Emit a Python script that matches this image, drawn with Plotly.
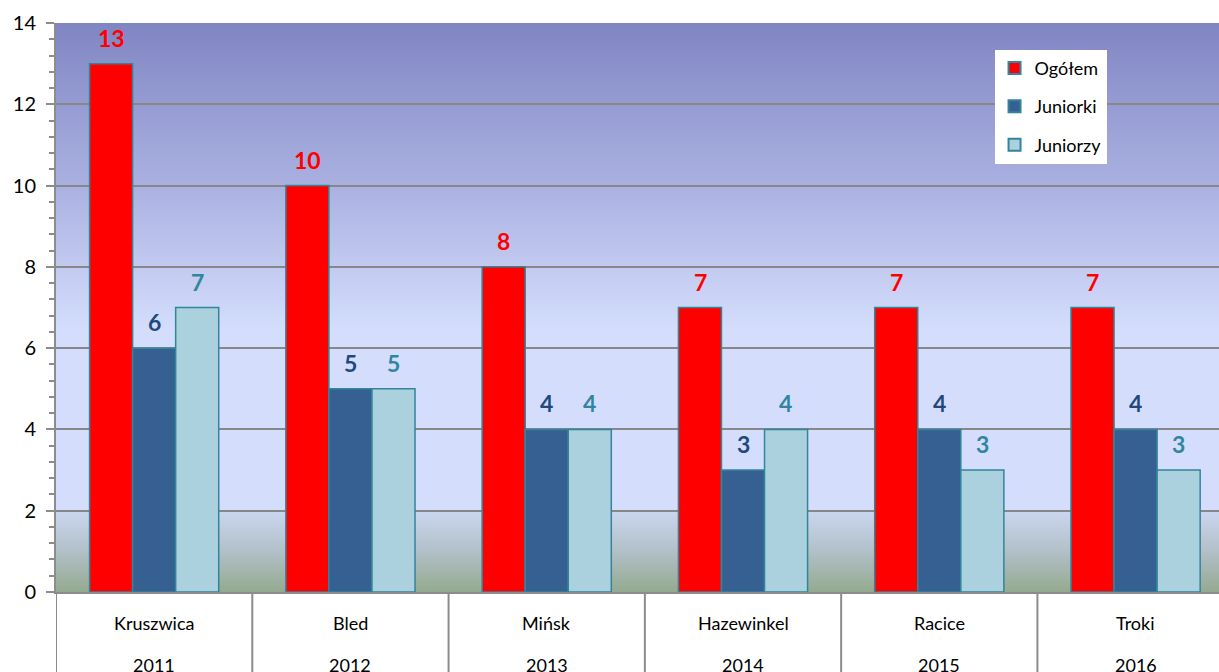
import base64
import struct
import zlib
import plotly.graph_objects as go

cities = ["Kruszwica", "Bled", "Mińsk", "Hazewinkel", "Racice", "Troki"]
years = ["2011", "2012", "2013", "2014", "2015", "2016"]
series_names = ["Ogółem", "Juniorki", "Juniorzy"]
ogolem = [13, 10, 8, 7, 7, 7]
juniorki = [6, 5, 4, 3, 4, 4]
juniorzy = [7, 5, 4, 4, 3, 3]

fills = ["#ff0000", "#376092", "#abd0de"]
label_colors = ["#ff0000", "#1f497d", "#31859c"]
outline = "#31859c"
FONT = "Lato"

series_values = [ogolem, juniorki, juniorzy]
xs = list(range(len(cities)))

fig = go.Figure()
for k, (name, vals, fc) in enumerate(zip(series_names, series_values, fills)):
    fig.add_trace(go.Bar(
        x=xs, y=vals, name=name, legendgroup="g%d" % k,
        marker=dict(color=fc, line=dict(color=outline, width=1.5)),
    ))

# background gradient (style only), rendered into a 1-px-wide PNG
grad_stops = [
    (14.0, (128, 133, 195)),
    (12.0, (150, 156, 210)),
    (10.0, (170, 177, 225)),
    (8.0, (194, 202, 240)),
    (6.4, (212, 222, 252)),
    (2.0, (212, 222, 252)),
    (1.999, (203, 214, 240)),
    (1.0, (178, 192, 200)),
    (0.0, (148, 170, 143)),
]

def col_at(v):
    for (v1, c1), (v0, c0) in zip(grad_stops[:-1], grad_stops[1:]):
        if v0 <= v <= v1:
            t = (v - v0) / (v1 - v0) if v1 != v0 else 0
            return tuple(round(a + (b - a) * t) for a, b in zip(c0, c1))
    return (212, 222, 252)

H = 1400
rows = b""
for r in range(H):
    v = 14.0 * (1 - (r + 0.5) / H)
    rows += b"\x00" + bytes(col_at(v))

def chunk(tag, data):
    c = struct.pack(">I", len(data)) + tag + data
    return c + struct.pack(">I", zlib.crc32(tag + data) & 0xffffffff)

png = b"\x89PNG\r\n\x1a\n" + chunk(b"IHDR", struct.pack(">IIBBBBB", 1, H, 8, 2, 0, 0, 0)) \
    + chunk(b"IDAT", zlib.compress(rows)) + chunk(b"IEND", b"")
src = "data:image/png;base64," + base64.b64encode(png).decode()

shapes = []
for i in range(len(cities)):
    shapes.append(dict(type="line", xref="x", yref="paper", x0=i - 0.5, x1=i - 0.5,
                       y0=0, y1=-0.2, line=dict(color="#8c8c8c", width=2)))

annotations = []
bw = 0.219
for si, vals in enumerate(series_values):
    for i, v in enumerate(vals):
        annotations.append(dict(x=i + (si - 1) * bw, y=v, xref="x", yref="y",
                                text="<b>%d</b>" % v, showarrow=False,
                                yanchor="middle", yshift=26,
                                font=dict(family=FONT, size=23, color=label_colors[si])))
for i, (c, yr) in enumerate(zip(cities, years)):
    annotations.append(dict(x=i, y=0, xref="x", yref="y", text=c, showarrow=False,
                            yanchor="middle", yshift=-31,
                            font=dict(family=FONT, size=18, color="#000000")))
    annotations.append(dict(x=i, y=0, xref="x", yref="y", text=yr, showarrow=False,
                            yanchor="middle", yshift=-73,
                            font=dict(family=FONT, size=18, color="#000000")))

fig.update_layout(
    width=1219, height=672,
    margin=dict(l=56, r=0, t=23, b=80),
    paper_bgcolor="white", plot_bgcolor="rgb(212,222,252)",
    barmode="group", bargap=0.342, bargroupgap=0,
    showlegend=True,
    legend=dict(x=0.807, y=0.953, xanchor="left", yanchor="top",
                bgcolor="white", font=dict(family=FONT, size=18, color="#000000"),
                tracegroupgap=12, itemsizing="constant", itemwidth=30),
    images=[dict(source=src, xref="paper", yref="y", x=0, y=14, sizex=1, sizey=14,
                 sizing="stretch", xanchor="left", yanchor="top", layer="below")],
    shapes=shapes, annotations=annotations,
    font=dict(family=FONT),
)
fig.update_xaxes(range=[-0.5, 5.425], showticklabels=False, ticks="",
                 showgrid=False, zeroline=False, showline=True,
                 linecolor="#8c8c8c", linewidth=2)
fig.update_yaxes(range=[0, 14], dtick=2, tick0=0, ticks="outside", ticklen=8,
                 tickwidth=2, tickcolor="#8c8c8c",
                 minor=dict(dtick=0.4, ticks="outside", ticklen=5, tickwidth=1.5,
                            tickcolor="#8c8c8c", showgrid=False),
                 showgrid=True, gridcolor="#878787", gridwidth=2,
                 zeroline=False, showline=True, linecolor="#8c8c8c", linewidth=2,
                 tickfont=dict(family=FONT, size=20, color="#000000"), ticklabelstandoff=6)

fig.write_html("out.html", config={"displayModeBar": False})
with open("out.html", "r", encoding="utf-8") as f:
    html = f.read()
html = html.replace("<body>", "<body style=\"margin:0;overflow:hidden\">", 1)
with open("out.html", "w", encoding="utf-8") as f:
    f.write(html)
